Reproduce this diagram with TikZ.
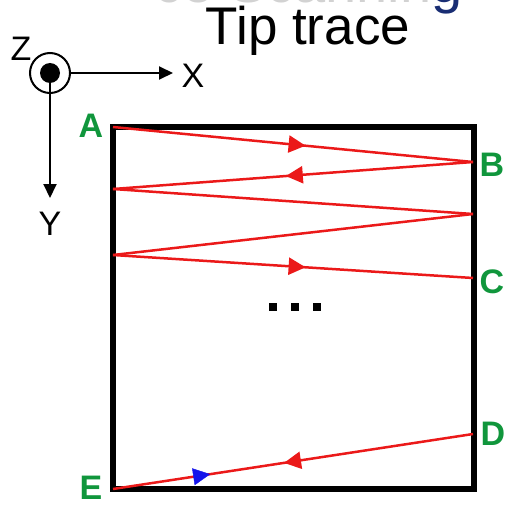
\documentclass[tikz,border=0pt]{standalone}
\usepackage{fontspec}
\setmainfont{Liberation Sans}
\usetikzlibrary{arrows.meta,decorations.markings}
\definecolor{lblgreen}{RGB}{16,150,60}
\definecolor{tracered}{RGB}{235,25,25}
\definecolor{titleblue}{RGB}{25,45,115}
\definecolor{arrblue}{RGB}{20,20,235}
\begin{document}
\begin{tikzpicture}[x=1pt,y=-1pt,
  lbl/.style={text=lblgreen, font=\fontsize{34}{36}\selectfont\bfseries, inner sep=0pt},
  axlbl/.style={font=\fontsize{34}{36}\selectfont, inner sep=0pt},
  tr/.style={draw=tracered, line width=2.5pt},
  arr/.style={postaction={decorate}, decoration={markings, mark=at position #1 with {\arrow[tracered]{Triangle[length=17pt,width=17pt]}}}},
  axis/.style={draw=black, line width=2pt, -{Triangle[length=14pt,width=13pt]}}
]
\useasboundingbox (0,0) rectangle (510,505);
% clipped slide title at the top
\begin{scope}
\clip (0,0) rectangle (510,505);
\node[anchor=base east, font=\fontsize{56}{60}\selectfont, text=gray!35, inner sep=0pt] (ttl) at (463,3) {ce Scannin\textcolor{titleblue}{g}};
\end{scope}
\node[font=\fontsize{53}{58}\selectfont, anchor=base, inner sep=0pt] (tip) at (308,45) {Tip trace};
% axes
\node[circle, draw, line width=2pt, minimum size=40pt, inner sep=0pt] (zc) at (50,73) {};
\node[circle, fill=black, minimum size=20pt, inner sep=0pt] (zd) at (50,73) {};
\coordinate (xend) at (173,73);
\coordinate (yend) at (50,198);
\draw[axis] (zc.east) -- (xend);
\draw[axis] (zd.south) -- (yend);
\node[axlbl] (zl) at (21,49) {Z};
\node[axlbl] (xl) at (193,76) {X};
\node[axlbl] (yl) at (50,224) {Y};
% frame
\draw[line width=6pt] (113,127) rectangle (474,489);
% trace points
\coordinate (A) at (113,127);
\coordinate (B) at (473,162);
\coordinate (L1) at (113,189);
\coordinate (R1) at (473,214);
\coordinate (L2) at (113,255);
\coordinate (C) at (473,278);
\coordinate (D) at (473,434);
\coordinate (E) at (113,489);
\path[tr, arr=0.535] (A) -- (B);
\path[tr, arr=0.52] (B) -- (L1);
\path[tr] (L1) -- (R1);
\path[tr] (R1) -- (L2);
\path[tr, arr=0.535] (L2) -- (C);
\path[tr, arr=0.525] (D) -- (E);
\path[postaction={decorate}, decoration={markings, mark=at position 0.27 with {\arrow[arrblue]{Triangle[length=17pt,width=17pt]}}}] (E) -- (D);
% labels
\node[lbl] (lA) at (91,126) {A};
\node[lbl] (lB) at (492,165) {B};
\node[lbl] (lC) at (492,282) {C};
\node[lbl] (lD) at (493,434) {D};
\node[lbl] (lE) at (91,488) {E};
% ellipsis
\fill (269,303) rectangle (277,311);
\fill (291,303) rectangle (299,311);
\fill (313,303) rectangle (321,311);
\end{tikzpicture}
\end{document}
